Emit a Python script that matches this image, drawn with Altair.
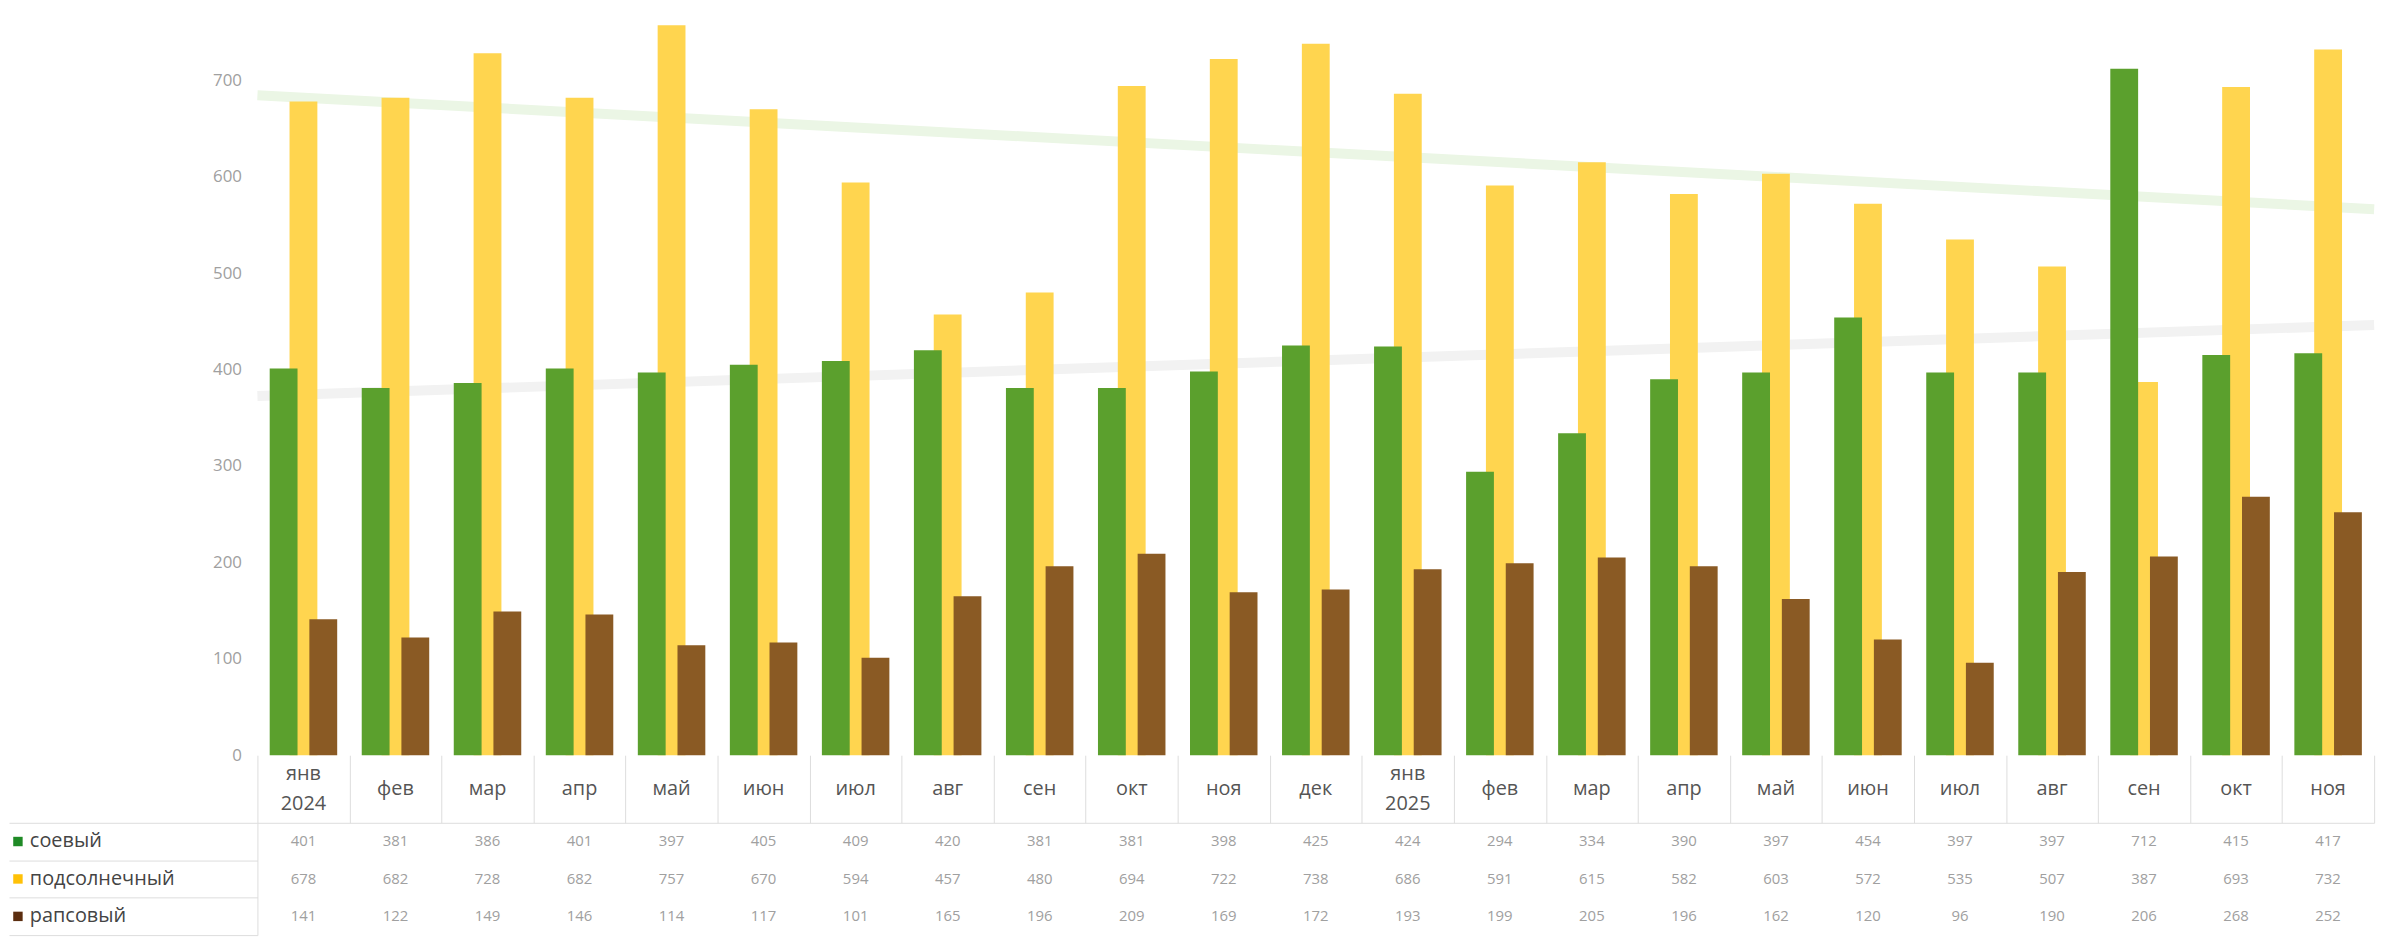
import altair as alt
import pandas as pd

# ---- data -------------------------------------------------------------
month_keys = ["2024-01", "2024-02", "2024-03", "2024-04", "2024-05", "2024-06",
              "2024-07", "2024-08", "2024-09", "2024-10", "2024-11", "2024-12",
              "2025-01", "2025-02", "2025-03", "2025-04", "2025-05", "2025-06",
              "2025-07", "2025-08", "2025-09", "2025-10", "2025-11"]
month_labels = ["янв\n2024", "фев", "мар", "апр", "май", "июн", "июл", "авг", "сен",
                "окт", "ноя", "дек", "янв\n2025", "фев", "мар", "апр", "май", "июн",
                "июл", "авг", "сен", "окт", "ноя"]

series_names = ["соевый", "подсолнечный", "рапсовый"]

soy = [401, 381, 386, 401, 397, 405, 409, 420, 381, 381, 398, 425,
       424, 294, 334, 390, 397, 454, 397, 397, 712, 415, 417]
sunflower = [678, 682, 728, 682, 757, 670, 594, 457, 480, 694, 722, 738,
             686, 591, 615, 582, 603, 572, 535, 507, 387, 693, 732]
rapeseed = [141, 122, 149, 146, 114, 117, 101, 165, 196, 209, 169, 172,
            193, 199, 205, 196, 162, 120, 96, 190, 206, 268, 252]

bar_colors = ["#5ba02d", "#ffd54f", "#8a5a24"]
legend_colors = ["#1f8a26", "#ffc107", "#5b2d0f"]

# long table; sunflower first so it is drawn behind the other two
rows = []
for name, vals in [("подсолнечный", sunflower), ("соевый", soy), ("рапсовый", rapeseed)]:
    for i, (k, v) in enumerate(zip(month_keys, vals)):
        rows.append({"key": k, "idx": i, "series": name, "value": v})
df = pd.DataFrame(rows)
months_df = pd.DataFrame({"key": month_keys, "label": month_labels,
                          "two": ["\n" in m for m in month_labels]})
names_df = pd.DataFrame({"series": series_names})

W = 2130
FONT = "Open Sans"

xband = alt.Scale(domain=month_keys, paddingInner=0, paddingOuter=0)

# ---- bars + trend lines ------------------------------------------------
trend = (
    alt.Chart(df)
    .transform_filter(alt.FieldOneOfPredicate(field="series", oneOf=["соевый", "подсолнечный"]))
    .transform_regression("idx", "value", groupby=["series"], extent=[-0.5, 22.5])
    .mark_line(strokeWidth=10)
    .encode(
        x=alt.X("idx:Q", scale=alt.Scale(domain=[-0.5, 22.5], nice=False, zero=False), axis=None),
        y=alt.Y("value:Q"),
        stroke=alt.Stroke("series:N",
                          scale=alt.Scale(domain=["соевый", "подсолнечный"],
                                          range=["#f2f2f2", "#ebf6e5"]),
                          legend=None),
    )
)

bars = (
    alt.Chart(df)
    .mark_bar(width=28)
    .encode(
        x=alt.X("key:N", sort=month_keys, scale=xband, axis=None),
        xOffset=alt.XOffset("series:N", sort=series_names,
                            scale=alt.Scale(domain=series_names, paddingInner=0, paddingOuter=0.82)),
        y=alt.Y("value:Q",
                scale=alt.Scale(domain=[0, 772], nice=False),
                axis=alt.Axis(values=[0, 100, 200, 300, 400, 500, 600, 700], grid=False,
                              domain=False, ticks=False, labelFontSize=17, labelColor="#a0a0a0",
                              labelPadding=16, labelFont=FONT, title=None)),
        color=alt.Color("series:N", scale=alt.Scale(domain=series_names, range=bar_colors),
                        legend=None),
    )
)

top = alt.layer(trend, bars).resolve_scale(x="independent").properties(width=W, height=749)

# ---- header row with month names --------------------------------------
hx = alt.X("key:N", sort=month_keys, scale=xband,
           axis=alt.Axis(orient="bottom", labels=False, ticks=False, domain=True,
                         domainColor="#dddddd", grid=True, gridColor="#dddddd",
                         tickBand="extent", title=None))

header_one = (
    alt.Chart(months_df)
    .transform_filter("!datum.two")
    .mark_text(fontSize=20, color="#555", font=FONT, baseline="middle")
    .encode(x=hx, y=alt.value(34), text="label:N")
)
header_two = (
    alt.Chart(months_df)
    .transform_filter("datum.two")
    .mark_text(fontSize=20, color="#555", lineBreak="\n", lineHeight=30, font=FONT,
               baseline="middle")
    .encode(x=hx, y=alt.value(19), text="label:N")
)
header = alt.layer(header_one, header_two).properties(width=W, height=68)

# ---- data table ---------------------------------------------------------
yrows = alt.Scale(domain=series_names, paddingInner=0, paddingOuter=0)

values = (
    alt.Chart(df)
    .mark_text(fontSize=15, color="#a0a0a0", font=FONT)
    .encode(
        x=alt.X("key:N", sort=month_keys, scale=xband, axis=None),
        y=alt.Y("series:N", sort=series_names, scale=yrows,
                axis=alt.Axis(labels=False, ticks=True, tickSize=250, tickBand="extent",
                              tickColor="#dddddd", domain=True, domainColor="#dddddd",
                              grid=False, title=None)),
        text="value:Q",
    )
)

names = (
    alt.Chart(names_df)
    .mark_text(align="left", fontSize=20, color="#444", font=FONT)
    .encode(x=alt.value(-229), y=alt.Y("series:N", sort=series_names, scale=yrows), text="series:N")
)

squares = (
    alt.Chart(names_df)
    .mark_square(size=90, opacity=1)
    .encode(
        x=alt.value(-241),
        y=alt.Y("series:N", sort=series_names, scale=yrows),
        color=alt.Color("series:N", scale=alt.Scale(domain=series_names, range=legend_colors),
                        legend=None),
    )
)

table = alt.layer(values, squares, names).properties(width=W, height=113)

chart = (
    alt.vconcat(top, header, table, spacing=0, bounds="flush")
    .resolve_scale(color="independent", x="independent")
    .properties(padding=0)
    .configure_view(strokeWidth=0)
)

chart.save("out.html", embed_options={"renderer": "svg", "actions": False})
